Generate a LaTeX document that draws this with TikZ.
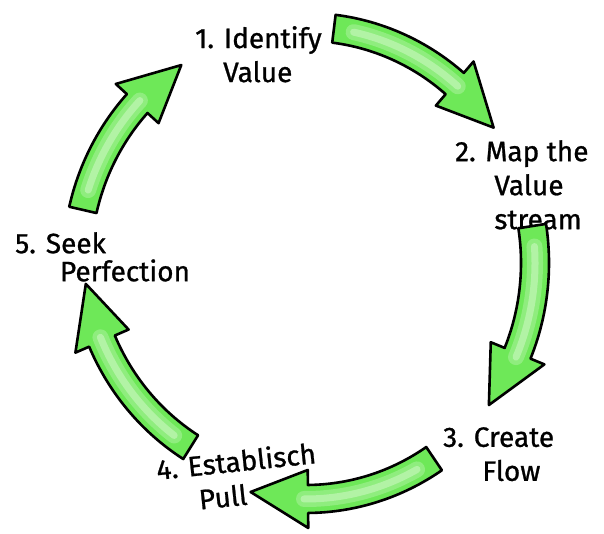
\documentclass[tikz,border=0pt]{standalone}
\usepackage{fontspec}
\setmainfont{Fira Sans}
\newfontfamily\markerfont{Fira Sans}[FakeBold=0.9]
\usepackage{tikz}
\usetikzlibrary{positioning}
\definecolor{arrowgreen}{RGB}{110,232,88}
\definecolor{palegreen}{RGB}{222,251,214}

% ring the arrows run on (radii in pt)
\newcommand{\ringrx}{229}
\newcommand{\ringry}{236}
\newcommand{\shaftw}{14}   % half shaft width
\newcommand{\headw}{29}    % half head width
\newcommand{\headlen}{14.5} % head length, degrees

% curved block arrow, clockwise: #1 tail angle, #2 tip angle
\newcommand{\curvedarrow}[2]{%
  \pgfmathsetmacro{\headbase}{#2+\headlen}
  \pgfmathsetmacro{\outrx}{\ringrx+\shaftw}\pgfmathsetmacro{\outry}{\ringry+\shaftw}
  \pgfmathsetmacro{\inrx}{\ringrx-\shaftw}\pgfmathsetmacro{\inry}{\ringry-\shaftw}
  \pgfmathsetmacro{\barbrx}{\ringrx+\headw}\pgfmathsetmacro{\barbry}{\ringry+\headw}
  \pgfmathsetmacro{\barbix}{\ringrx-\headw}\pgfmathsetmacro{\barbiy}{\ringry-\headw}
  \pgfmathsetmacro{\glowa}{#1-5}\pgfmathsetmacro{\glowb}{\headbase-1}
  \filldraw[bigarrow] (#1:\outrx pt and \outry pt)
    arc[start angle=#1, end angle=\headbase, x radius=\outrx pt, y radius=\outry pt]
    -- (\headbase:\barbrx pt and \barbry pt) -- (#2:\ringrx pt and \ringry pt)
    -- (\headbase:\barbix pt and \barbiy pt) -- (\headbase:\inrx pt and \inry pt)
    arc[start angle=\headbase, end angle=#1, x radius=\inrx pt, y radius=\inry pt] -- cycle;
  \draw[glow, line width=16pt, opacity=0.3] (\glowa:\ringrx pt and \ringry pt)
    arc[start angle=\glowa, end angle=\glowb, x radius=\ringrx pt, y radius=\ringry pt];
  \draw[glow, line width=7pt, opacity=0.45] (\glowa:\ringrx pt and \ringry pt)
    arc[start angle=\glowa, end angle=\glowb, x radius=\ringrx pt, y radius=\ringry pt];
}

\begin{document}
\begin{tikzpicture}[
    x=1pt, y=1pt,
    stepbox/.style={anchor=north west, inner sep=0pt, align=left, font=\markerfont\fontsize{28}{34}\selectfont},
    bigarrow/.style={draw=black, line width=2.6pt, fill=arrowgreen, line join=round},
    glow/.style={palegreen, line cap=round}
]
    \fill[white] (0,0) rectangle (604,534);
    \useasboundingbox (0,0) rectangle (604,534);

    % Steps
    \node[stepbox] (identify) at (195,508) {1. Identify\\\hspace{1em}Value};
    \node[stepbox] (map) at (455,394) {2. Map the\\\hspace{1.4em}Value\\\hspace{1.4em}stream};
    \node[stepbox] (flow) at (443,107) {3. Create\\\hspace{1.4em}Flow};
    \node[stepbox, rotate=6] (pull) at (155,76) {4. Establisch\\\hspace{1.4em}Pull};
    \node[stepbox, font=\markerfont\fontsize{28}{28}\selectfont] (perfect) at (15,302) {5. Seek\\\hspace{1.6em}Perfection};

    % Arrows round the ring
    \begin{scope}[shift={(306,271)}]
        \curvedarrow{83}{35}
        \curvedarrow{9}{-37}
        \curvedarrow{-56}{-104}
        \curvedarrow{167}{123}
    \end{scope}
    \begin{scope}[shift={(312,287)}]
        \curvedarrow{238}{189}
    \end{scope}
\end{tikzpicture}
\end{document}
